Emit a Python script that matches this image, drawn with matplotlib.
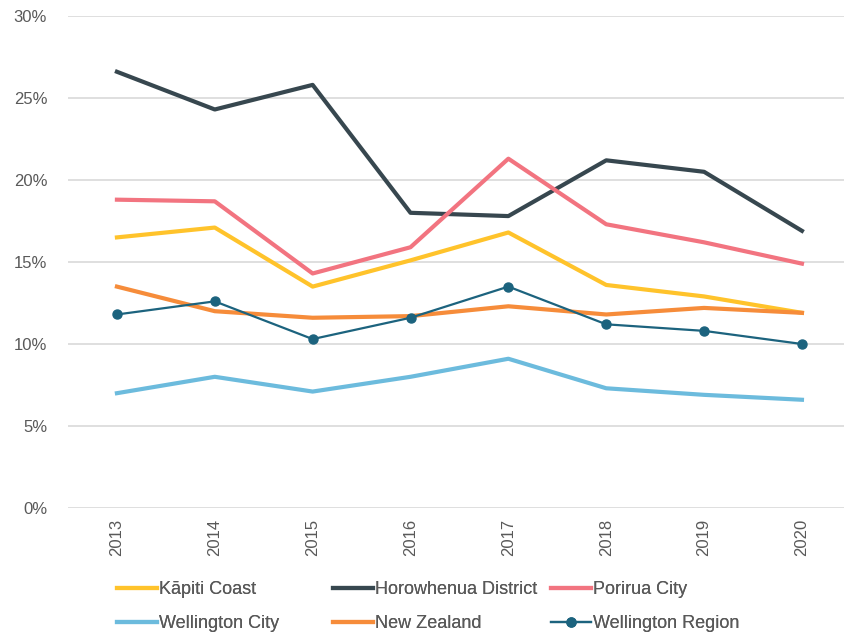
import matplotlib
matplotlib.use("Agg")
import matplotlib.pyplot as plt
from matplotlib.ticker import PercentFormatter

plt.rcParams['font.family'] = ['Liberation Sans', 'DejaVu Sans']

# Datos (porcentajes)
years = ['2013', '2014', '2015', '2016', '2017', '2018', '2019', '2020']
kapiti = [16.5, 17.1, 13.5, 15.1, 16.8, 13.6, 12.9, 11.9]
horowhenua = [26.6, 24.3, 25.8, 18.0, 17.8, 21.2, 20.5, 16.9]
porirua = [18.8, 18.7, 14.3, 15.9, 21.3, 17.3, 16.2, 14.9]
wellington_city = [7.0, 8.0, 7.1, 8.0, 9.1, 7.3, 6.9, 6.6]
new_zealand = [13.5, 12.0, 11.6, 11.7, 12.3, 11.8, 12.2, 11.9]
wellington_region = [11.8, 12.6, 10.3, 11.6, 13.5, 11.2, 10.8, 10.0]

fig = plt.figure(figsize=(8.45, 6.32), dpi=100)
ax = fig.add_axes([68/845, 124/632, 777/845, 492/632])

x = range(len(years))
l1, = ax.plot(x, kapiti, color='#FFC32B', lw=3, label='Kāpiti Coast')
l2, = ax.plot(x, horowhenua, color='#37474F', lw=3, label='Horowhenua District')
l3, = ax.plot(x, porirua, color='#F27480', lw=3, label='Porirua City')
l4, = ax.plot(x, wellington_city, color='#6CBBDD', lw=3, label='Wellington City')
l5, = ax.plot(x, new_zealand, color='#F68C3A', lw=3, label='New Zealand')
l6, = ax.plot(x, wellington_region, color='#1C637E', lw=1.6, marker='o', markersize=6.5,
              label='Wellington Region')

ax.set_xlim(-0.5, 7.44)
ax.set_ylim(0, 30)
ax.set_yticks([0, 5, 10, 15, 20, 25, 30])
ax.yaxis.set_major_formatter(PercentFormatter(decimals=0))
ax.set_xticks(list(x))
ax.set_xticklabels(years, rotation=90)
ax.grid(axis='y', color='#D9D9D9', lw=1.2)
ax.set_axisbelow(True)
for s in ax.spines.values():
    s.set_visible(False)
ax.tick_params(length=0, colors='#595959', labelsize=12)
ax.tick_params(axis='y', pad=15)
ax.tick_params(axis='x', pad=8)

# Leyenda: una columna por grupo, para fijar la posición de cada columna
columnas = [([l1, l4], 117), ([l2, l5], 333), ([l3, l6], 551)]
for lineas, xpos in columnas:
    leg = fig.legend(handles=lineas, loc='upper left',
                     bbox_to_anchor=(xpos/845, 1 - 581/632), ncol=1,
                     frameon=False, fontsize=13, handlelength=2.2, handletextpad=0.15,
                     borderpad=0, borderaxespad=0, labelspacing=0.95)
    for t in leg.get_texts():
        t.set_color('#595959')
    fig.add_artist(leg)

fig.savefig('out.png', dpi=100)
